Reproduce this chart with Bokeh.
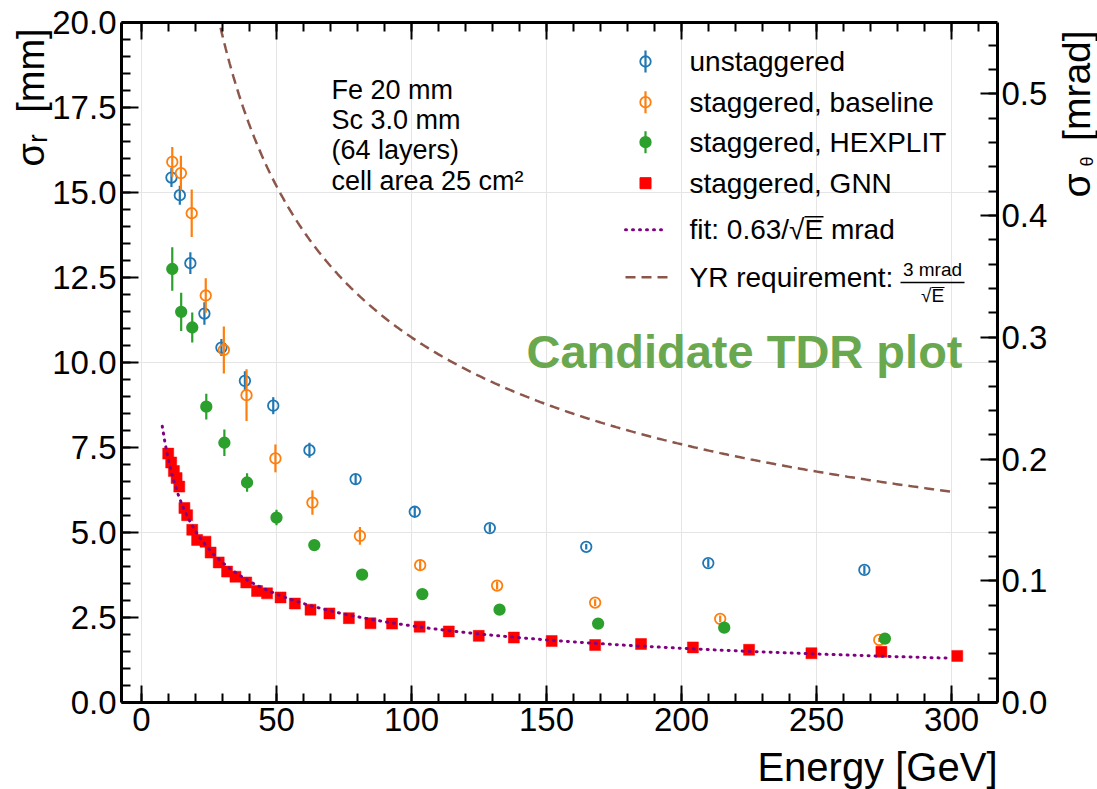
import numpy as np
from bokeh.plotting import figure
from bokeh.models import (Range1d, LinearAxis, FixedTicker, PrintfTickFormatter,
                          Label, ColumnDataSource)
from bokeh.embed import file_html
from bokeh.resources import INLINE

try:
    from bokeh.models import HTMLLabel
except ImportError:
    HTMLLabel = None

# ---------------------------------------------------------------- data
# unstaggered
e_unstag = [11.1, 14.2, 18.1, 23.3, 29.6, 38.3, 48.8, 62.2, 79.3, 101.2, 129.0, 164.7, 209.9, 267.7]
s_unstag = [15.44, 14.92, 12.92, 11.44, 10.44, 9.46, 8.73, 7.42, 6.57, 5.61, 5.13, 4.58, 4.10, 3.90]
err_unstag = [0.28, 0.28, 0.32, 0.33, 0.25, 0.28, 0.25, 0.22, 0.15, 0.14, 0.12, 0.08, 0.12, 0.12]

# staggered, baseline
e_base = [11.4, 14.6, 18.6, 23.8, 30.5, 38.9, 49.6, 63.3, 80.9, 103.2, 131.7, 168.0, 214.3, 273.2]
s_base = [15.90, 15.57, 14.39, 11.97, 10.37, 9.04, 7.18, 5.88, 4.90, 4.04, 3.44, 2.94, 2.46, 1.84]
err_base = [0.44, 0.51, 0.70, 0.51, 0.69, 0.76, 0.41, 0.36, 0.26, 0.15, 0.12, 0.10, 0.10, 0.06]

# staggered, HEXPLIT
e_hex = [11.4, 14.7, 18.8, 24.0, 30.7, 39.1, 50.0, 64.0, 81.7, 104.0, 132.6, 169.1, 215.8, 275.3]
s_hex = [12.75, 11.49, 11.03, 8.70, 7.64, 6.47, 5.44, 4.63, 3.76, 3.19, 2.73, 2.32, 2.20, 1.88]
err_hex = [0.64, 0.56, 0.44, 0.38, 0.39, 0.27, 0.23, 0.12, 0.08, 0.06, 0.05, 0.05, 0.05, 0.05]

# staggered, GNN
e_gnn = [9.9, 11.0, 12.0, 13.0, 14.0, 15.9, 16.9, 18.8, 20.6, 23.7, 25.6, 28.6, 31.7, 34.8,
         38.8, 42.8, 46.5, 51.5, 56.8, 62.6, 69.6, 76.8, 84.8, 92.8, 103.0, 113.8, 124.9,
         137.9, 151.9, 168.0, 185.0, 204.2, 225.0, 248.1, 274.0, 302.1]
s_gnn = [7.32, 7.06, 6.81, 6.60, 6.35, 5.72, 5.51, 5.08, 4.78, 4.73, 4.41, 4.12, 3.85, 3.70,
         3.53, 3.28, 3.21, 3.09, 2.91, 2.73, 2.62, 2.48, 2.33, 2.32, 2.23, 2.09, 1.96,
         1.91, 1.81, 1.69, 1.72, 1.62, 1.55, 1.45, 1.49, 1.37]

# resolution curves, mrad * sqrt(GeV)
fit_coef = 0.63
yr_coef = 3.0
fit_e_range = (7.7, 300.0)
yr_e_range = (20.0, 300.0)
MM_PER_MRAD = 35.8  # IP to ZDC distance: mm per mrad

x_ticks = [0, 50, 100, 150, 200, 250, 300]
y_ticks = [0.0, 2.5, 5.0, 7.5, 10.0, 12.5, 15.0, 17.5, 20.0]
theta_ticks = [0.0, 0.1, 0.2, 0.3, 0.4, 0.5]

legend_labels = ["unstaggered", "staggered, baseline", "staggered, HEXPLIT",
                 "staggered, GNN", "fit: 0.63/\u221aE mrad", "YR requirement:"]
info_lines = ["Fe 20 mm", "Sc 3.0 mm", "(64 layers)", "cell area 25 cm\u00b2"]

# ---------------------------------------------------------------- style
C_BLUE, C_ORANGE, C_GREEN, C_RED = "#1f77b4", "#ff7f0e", "#2ca02c", "#ff0000"
C_FIT, C_YR = "#800080", "#8c564b"
FONT = "Liberation Sans"
NBSP = "\u00a0"

W, H = 1097, 789
LEFT, RIGHT, TOP, BOTTOM = 121, 100, 22, 87
X_START, X_END = -7.4, 317.0
Y_START, Y_END = 0.0, 20.0

PX_X = (W - LEFT - RIGHT) / (X_END - X_START)
PX_Y = (H - TOP - BOTTOM) / (Y_END - Y_START)


def dx(px):
    return X_START + (px - LEFT) / PX_X


def dy(py):
    return Y_END - (py - TOP) / PX_Y


p = figure(width=W, height=H, x_range=Range1d(X_START, X_END),
           y_range=Range1d(Y_START, Y_END), output_backend="svg",
           toolbar_location=None, x_axis_location=None, y_axis_location=None,
           min_border_left=LEFT, min_border_right=RIGHT,
           min_border_top=TOP, min_border_bottom=BOTTOM)
p.outline_line_color = None
p.extra_y_ranges = {"theta": Range1d(Y_START / MM_PER_MRAD, Y_END / MM_PER_MRAD)}


def style_axis(ax, show_labels=True):
    ax.axis_line_width = 3
    ax.axis_line_color = "black"
    ax.major_tick_in = 17
    ax.major_tick_out = 0
    ax.minor_tick_in = 9
    ax.minor_tick_out = 0
    ax.major_tick_line_width = 2
    ax.minor_tick_line_width = 2
    ax.major_label_text_font = FONT
    ax.major_label_text_color = "black"
    ax.major_label_text_font_size = "33px"
    ax.major_label_standoff = 5
    if not show_labels:
        ax.major_label_text_font_size = "0px"
        ax.major_label_overrides = {t: "" for t in ax.ticker.ticks}
        ax.major_label_standoff = 0


x_ticker = FixedTicker(ticks=x_ticks, minor_ticks=list(range(0, 311, 10)))
y_ticker = FixedTicker(ticks=y_ticks, minor_ticks=np.arange(0, 20.01, 0.5).tolist())
t_ticker = FixedTicker(ticks=theta_ticks,
                       minor_ticks=np.round(np.arange(0, 0.56, 0.02), 3).tolist())

ax_bottom = LinearAxis(ticker=x_ticker, formatter=PrintfTickFormatter(format="%d"))
ax_top = LinearAxis(ticker=x_ticker)
ax_left = LinearAxis(ticker=y_ticker, formatter=PrintfTickFormatter(format="%.1f"))
ax_right = LinearAxis(y_range_name="theta", ticker=t_ticker,
                      formatter=PrintfTickFormatter(format="%.1f"))
style_axis(ax_bottom)
style_axis(ax_top, show_labels=False)
style_axis(ax_left)
style_axis(ax_right)
ax_bottom.major_label_standoff = 5
ax_right.major_label_standoff = 4
p.add_layout(ax_bottom, "below")
p.add_layout(ax_top, "above")
p.add_layout(ax_left, "left")
p.add_layout(ax_right, "right")


# ---------------------------------------------------------------- series
def errbar_source(e, s, err):
    s = np.asarray(s)
    err = np.asarray(err)
    return ColumnDataSource(dict(e=e, s=s, lo=s - err, hi=s + err))


src_u = errbar_source(e_unstag, s_unstag, err_unstag)
src_b = errbar_source(e_base, s_base, err_base)
src_h = errbar_source(e_hex, s_hex, err_hex)

for src, col, filled in [(src_u, C_BLUE, False), (src_b, C_ORANGE, False), (src_h, C_GREEN, True)]:
    p.segment(x0="e", y0="lo", x1="e", y1="hi", source=src, line_color=col, line_width=2.2)
    p.scatter(x="e", y="s", source=src, marker="circle", size=10.5,
              line_color=col, line_width=1.8,
              fill_color=col if filled else None)

p.scatter(e_gnn, s_gnn, marker="square", size=11, fill_color=C_RED, line_color=C_RED, line_width=0.5)

e_fit = np.linspace(*fit_e_range, 400)
p.line(e_fit, fit_coef * MM_PER_MRAD / np.sqrt(e_fit), line_color=C_FIT,
       line_width=3, line_dash="1 6", line_cap="round")

e_yr = np.linspace(*yr_e_range, 400)
p.line(e_yr, yr_coef * MM_PER_MRAD / np.sqrt(e_yr), line_color=C_YR,
       line_width=2.5, line_dash="10 6")

# ---------------------------------------------------------------- legend keys
leg_rows_px = [61, 101.7, 141.7, 182.7, 229.3, 276.7]
leg_mark_px, leg_text_px = 645, 689
bar_half = 11 / PX_Y
for i, (col, filled) in enumerate([(C_BLUE, False), (C_ORANGE, False), (C_GREEN, True)]):
    yy = dy(leg_rows_px[i])
    p.segment(x0=[dx(leg_mark_px)], y0=[yy - bar_half], x1=[dx(leg_mark_px)], y1=[yy + bar_half],
              line_color=col, line_width=2.2)
    p.scatter([dx(leg_mark_px)], [yy], marker="circle", size=10.5, line_color=col,
              line_width=1.8, fill_color=col if filled else None)
p.scatter([dx(leg_mark_px)], [dy(leg_rows_px[3])], marker="square", size=11,
          fill_color=C_RED, line_color=C_RED)
p.line([dx(625), dx(666)], [dy(leg_rows_px[4])] * 2, line_color=C_FIT, line_width=3,
       line_dash="1 6", line_cap="round")
p.line([dx(625), dx(667)], [dy(leg_rows_px[5])] * 2, line_color=C_YR, line_width=2.5,
       line_dash="10 6")


def text_kw(size, **kw):
    kw.setdefault("text_baseline", "middle")
    kw.setdefault("text_align", "left")
    kw.setdefault("text_color", "black")
    kw["text_font"] = FONT
    kw["text_font_size"] = f"{size}px"
    return kw


def make_text(px, py, text, size, **kw):
    return Label(x=dx(px), y=dy(py), text=text, **text_kw(size, **kw))


for row, txt in zip(leg_rows_px, legend_labels):
    p.add_layout(make_text(leg_text_px, row, txt, 28))
# radical bar over E in the fit entry
p.line([dx(804), dx(823)], [dy(leg_rows_px[4] - 13)] * 2, line_color="black", line_width=1.5)

frac_cx = 932
p.add_layout(make_text(frac_cx, 269, "3 mrad", 19, text_align="center"))
p.line([dx(900), dx(964)], [dy(282)] * 2, line_color="black", line_width=1.5)
p.add_layout(make_text(frac_cx, 295, "\u221aE", 19, text_align="center"))
p.line([dx(931), dx(944)], [dy(287)] * 2, line_color="black", line_width=1.2)

for txt, py in zip(info_lines, [89.3, 119.3, 149.3, 180.7]):
    p.add_layout(make_text(331, py, txt, 27))

p.add_layout(make_text(962, 351, "Candidate TDR plot", 47, text_font_style="bold",
                       text_color="#6aa84f", text_align="right"))

# ---------------------------------------------------------------- axis titles (side panels)
ROT = np.pi / 2
p.add_layout(make_text(30, 166, "\u03c3\u1d63" + NBSP * 2 + "[mm]", 38, angle=ROT), "left")
p.add_layout(make_text(1076, 197, "\u03c3" + NBSP * 3 + "[mrad]", 39, angle=ROT), "right")
p.add_layout(make_text(1086, 166, "\u03b8", 18, angle=ROT), "above")
p.add_layout(make_text(W - RIGHT, 766, "Energy [GeV]", 40, text_align="right"), "below")


# ---------------------------------------------------------------- title and credit at the page edges
def make_edge_text(px, py, text, size, **kw):
    if HTMLLabel is not None:
        try:
            return HTMLLabel(x=dx(px), y=dy(py), text=text, **text_kw(size, **kw))
        except Exception:
            pass
    return make_text(px, py, text, size, **kw)


p.add_layout(make_edge_text((LEFT + W - RIGHT) / 2, 20, "ZDC neutron simulation", 48,
                            text_align="center", text_baseline="bottom"))
p.add_layout(make_edge_text(125, 768, "Plot by Sebouh Paul", 46, text_baseline="top",
                            text_color="#4a4a4a"))

open("out.html", "w").write(file_html(p, INLINE))
